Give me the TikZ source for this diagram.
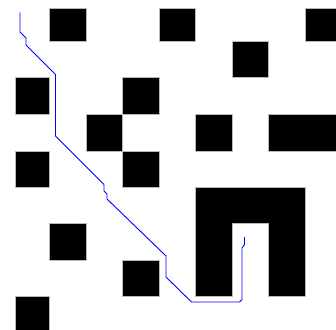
\documentclass[tikz,border=0pt]{standalone}
\begin{document}
\begin{tikzpicture}[x=1pt,y=-1pt,
  blk/.style={fill=black, draw=gray!55, line width=0.6pt},
  route/.style={draw=blue, line width=0.9pt, line join=miter}]
\useasboundingbox (0,0) rectangle (336,329);
\clip (0,0) rectangle (336,329);
% obstacles
\path[blk] (49.3,8) rectangle (86,41.3);
\path[blk] (159,8) rectangle (195.3,41.3);
\path[blk] (305,8) rectangle (341,41.3);
\path[blk] (232,41.3) rectangle (268.3,77.5);
\path[blk] (15,77.5) rectangle (49.3,114.3);
\path[blk] (122.3,77.5) rectangle (159,114.3);
\path[blk] (86,114.3) rectangle (122.3,151);
\path[blk] (195.3,114.3) rectangle (232,151);
\path[blk] (268.3,114.3) rectangle (341,151);
\path[blk] (15,151) rectangle (49.3,187.3);
\path[blk] (122.3,151) rectangle (159,187.3);
\path[blk] (195.3,187.3) -- (305,187.3) -- (305,296.7) -- (268.3,296.7) -- (268.3,223.7)
  -- (232,223.7) -- (232,296.7) -- (195.3,296.7) -- cycle;
\path[blk] (49.3,223.7) rectangle (86,260.3);
\path[blk] (122.3,260.3) rectangle (159,296.7);
\path[blk] (15,296.7) rectangle (49.3,333);
% path
\coordinate (s) at (20,12.5);
\coordinate (g) at (244.5,237);
\draw[route] (s) -- (20,32) -- (26,38) -- (26,45) -- (55.5,74.5) -- (55.5,136)
  -- (104,184.5) -- (104,191) -- (107,194) -- (107,199) -- (166,256) -- (166,277)
  -- (191.5,302) -- (239.5,302) -- (242,299.5) -- (242,248) -- (244.5,244.5) -- (g);
\end{tikzpicture}
\end{document}
